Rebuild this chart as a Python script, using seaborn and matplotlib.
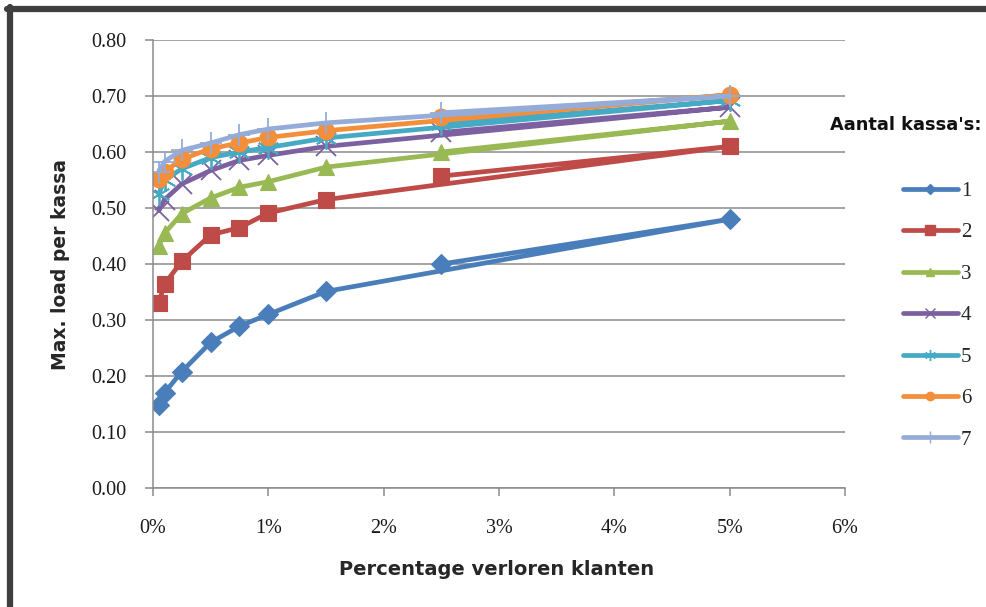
import matplotlib
matplotlib.use("Agg")
import matplotlib.pyplot as plt
from matplotlib.lines import Line2D
from matplotlib.ticker import FuncFormatter
import seaborn as sns
import pandas as pd

# ---- data (x in percent; order as plotted in the original workbook) ----
pct_lost = [0.05, 0.1, 0.25, 0.5, 0.75, 1.0, 1.5, 5.0, 2.5]
kassa_1 = [0.149, 0.170, 0.208, 0.260, 0.289, 0.310, 0.351, 0.480, 0.400]
kassa_2 = [0.331, 0.364, 0.405, 0.452, 0.465, 0.491, 0.515, 0.610, 0.557]
kassa_3 = [0.432, 0.455, 0.490, 0.518, 0.537, 0.547, 0.573, 0.655, 0.600]
kassa_4 = [0.495, 0.515, 0.543, 0.567, 0.585, 0.594, 0.610, 0.680, 0.635]
kassa_5 = [0.525, 0.550, 0.570, 0.590, 0.600, 0.608, 0.625, 0.692, 0.650]
kassa_6 = [0.552, 0.565, 0.587, 0.606, 0.616, 0.626, 0.638, 0.702, 0.663]
kassa_7 = [0.565, 0.583, 0.603, 0.616, 0.631, 0.641, 0.652, 0.700, 0.670]
series_names = ["1", "2", "3", "4", "5", "6", "7"]
series_values = [kassa_1, kassa_2, kassa_3, kassa_4, kassa_5, kassa_6, kassa_7]
y_ticks = [0.0, 0.1, 0.2, 0.3, 0.4, 0.5, 0.6, 0.7, 0.8]
x_ticks = [0, 1, 2, 3, 4, 5, 6]

colors = ["#4A7EBB", "#BE4B48", "#98B954", "#7D60A0", "#46AAC5", "#F38E3A", "#95ACD8"]
markers = ["D", "s", "^", "x", (6, 2, 0), "o", "+"]
msizes = [10, 12, 12, 14, 16, 12, 16]
legend_msizes = [5, 7, 6, 7, 8, 6, 8]

sns.set_theme(style="white")
plt.rcParams["font.family"] = ["Liberation Serif", "DejaVu Serif"]
label_font = ["DejaVu Sans", "Lato"]

fig = plt.figure(figsize=(9.87, 6.07), dpi=100)
fig.patch.set_facecolor("white")
ax = fig.add_axes([153 / 987, 1 - 488 / 607, (845 - 153) / 987, (488 - 40) / 607])

for name, vals, c, m, ms in zip(series_names, series_values, colors, markers, msizes):
    df = pd.DataFrame({"x": pct_lost, "y": vals})
    sns.lineplot(data=df, x="x", y="y", ax=ax, sort=False, estimator=None,
                 color=c, linewidth=3.4, marker=m, markersize=ms,
                 markeredgecolor=c, markeredgewidth=1.3 if m in ("x", "+", (6, 2, 0)) else 0.8,
                 markerfacecolor=c, legend=False)

ax.set_xlim(0, 6)
ax.set_ylim(0, 0.8)
ax.set_xticks(x_ticks)
ax.set_yticks(y_ticks)
ax.xaxis.set_major_formatter(FuncFormatter(lambda v, p: f"{v:.0f}%"))
ax.yaxis.set_major_formatter(FuncFormatter(lambda v, p: f"{v:.2f}"))
ax.grid(axis="y", color="#8C8C8C", linewidth=1.1)
ax.grid(axis="x", visible=False)
for s in ["top", "right"]:
    ax.spines[s].set_visible(False)
for s in ["left", "bottom"]:
    ax.spines[s].set_color("#8C8C8C")
    ax.spines[s].set_linewidth(1.1)
ax.tick_params(axis="both", which="major", direction="out", length=6, width=1.1,
               color="#8C8C8C", labelsize=14.5, labelcolor="#1a1a1a")
ax.tick_params(axis="x", pad=16, bottom=True)
ax.tick_params(axis="y", pad=13, left=True)
ax.set_xlabel("Percentage verloren klanten", fontsize=14, fontweight="bold",
              family=label_font)
ax.set_ylabel("Max. load per kassa", fontsize=13.5, fontweight="bold",
              family=label_font)
ax.xaxis.set_label_coords((497 - 153) / 692, -(560 - 488) / 448)
ax.yaxis.set_label_coords(-(153 - 70) / 692, 0.5)

# legend
handles = [Line2D([0], [0], color=c, linewidth=3.4, marker=m, markersize=lm,
                  markerfacecolor=c, markeredgecolor=c)
           for c, m, lm in zip(colors, markers, legend_msizes)]
fig.legend(handles, series_names, loc="upper left",
           bbox_to_anchor=(893 / 987, 1 - 171 / 607), frameon=False, borderpad=0,
           fontsize=15, handlelength=2.6, handletextpad=0.15,
           labelspacing=1.05)
fig.text(830 / 987, 1 - 125 / 607, "Aantal kassa's:", fontsize=12.8, fontweight="bold",
         family=label_font, ha="left", va="center", color="#111111")

# outer dark frame (top and left edges visible)
fig.add_artist(Line2D([7 / 987, 1.0], [1 - 8.5 / 607, 1 - 8.5 / 607],
                      transform=fig.transFigure, color="#3F3F3F", linewidth=4.5))
fig.add_artist(Line2D([9.5 / 987, 9.5 / 987], [1 - 7 / 607, 0.0],
                      transform=fig.transFigure, color="#3F3F3F", linewidth=4.5))

fig.savefig("out.png", dpi=100, facecolor="white")
